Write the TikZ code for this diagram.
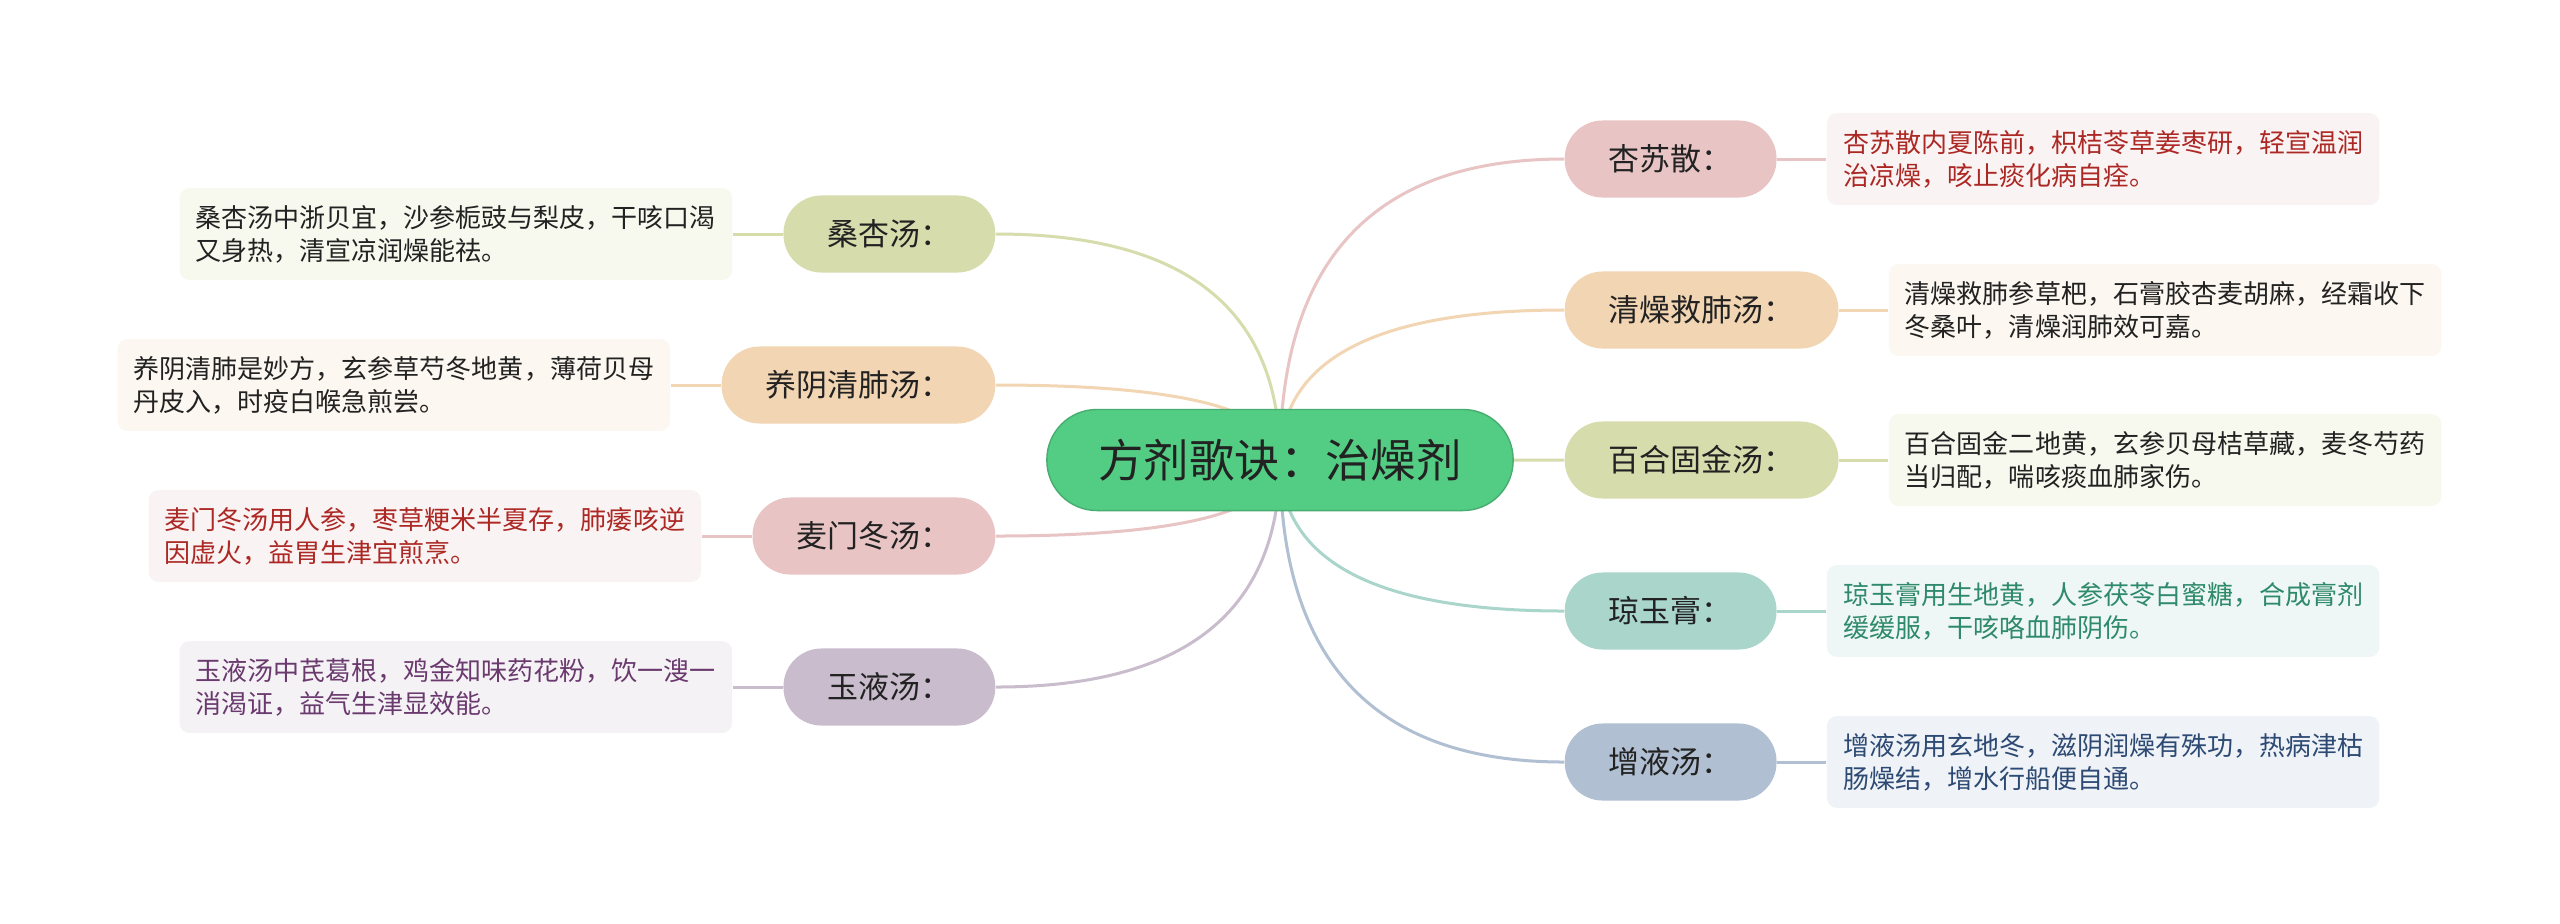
\documentclass[tikz,border=0pt]{standalone}
\usepackage{fontspec}
\setmainfont{Noto Sans CJK SC}
\usetikzlibrary{positioning,calc,backgrounds}
\definecolor{MapGreen}{RGB}{83,204,132}
\definecolor{Olive}{RGB}{214,220,172}
\definecolor{Peach}{RGB}{242,213,179}
\definecolor{Rose}{RGB}{232,196,196}
\definecolor{Lilac}{RGB}{201,188,204}
\definecolor{Teal}{RGB}{169,213,203}
\definecolor{Slate}{RGB}{176,191,209}
\definecolor{Ink}{RGB}{34,34,34}
\definecolor{RoseText}{RGB}{172,40,36}
\definecolor{LilacText}{RGB}{106,58,110}
\definecolor{TealText}{RGB}{46,138,106}
\definecolor{SlateText}{RGB}{44,74,115}
\tikzset{
  root/.style={fill=MapGreen,draw=MapGreen!85!black,rounded corners=0.5cm,minimum width=4.66cm,minimum height=1.01cm,text=Ink,font=\fontsize{12.9pt}{15pt}\selectfont},
  topic/.style={fill=#1,rounded corners=0.38cm,minimum height=0.77cm,inner xsep=0.44cm,inner ysep=0.1cm,text=Ink,font=\fontsize{8.8pt}{10pt}\selectfont},
  note/.style={fill=#1!20,rounded corners=0.1cm,inner xsep=0.16cm,inner ysep=0.17cm,align=left,text=Ink,font=\fontsize{7.4pt}{9.4pt}\selectfont},
  link/.style={draw=#1,line width=0.03cm},
}
\begin{document}
\begin{tikzpicture}[x=0.01cm,y=-0.01cm]
    \useasboundingbox (0,0) rectangle (2560,923);
    %% Root
    \node[root] (cen) at (1280,460) {方剂歌诀：治燥剂};
    %% Left branches
    \node[topic=Olive,anchor=east] (sx) at (996,234) {桑杏汤：};
    \node[topic=Peach,anchor=east] (yy) at (996,385) {养阴清肺汤：};
    \node[topic=Rose,anchor=east]  (mm) at (996,536) {麦门冬汤：};
    \node[topic=Lilac,anchor=east] (yt) at (996,687) {玉液汤：};
    %% Right branches
    \node[topic=Rose,anchor=west]  (xs) at (1564,159) {杏苏散：};
    \node[topic=Peach,anchor=west] (qz) at (1564,310) {清燥救肺汤：};
    \node[topic=Olive,anchor=west] (bh) at (1564,460) {百合固金汤：};
    \node[topic=Teal,anchor=west]  (qy) at (1564,611) {琼玉膏：};
    \node[topic=Slate,anchor=west] (zy) at (1564,762) {增液汤：};
    %% Notes, left
    \node[note=Olive,left=0.5cm of sx] (sxn) {桑杏汤中浙贝宜，沙参栀豉与梨皮，干咳口渴\\又身热，清宣凉润燥能祛。};
    \node[note=Peach,left=0.5cm of yy] (yyn) {养阴清肺是妙方，玄参草芍冬地黄，薄荷贝母\\丹皮入，时疫白喉急煎尝。};
    \node[note=Rose,text=RoseText,left=0.5cm of mm] (mmn) {麦门冬汤用人参，枣草粳米半夏存，肺痿咳逆\\因虚火，益胃生津宜煎烹。};
    \node[note=Lilac,text=LilacText,left=0.5cm of yt] (ytn) {玉液汤中芪葛根，鸡金知味药花粉，饮一溲一\\消渴证，益气生津显效能。};
    %% Notes, right
    \node[note=Rose,text=RoseText,right=0.49cm of xs] (xsn) {杏苏散内夏陈前，枳桔苓草姜枣研，轻宣温润\\治凉燥，咳止痰化病自痊。};
    \node[note=Peach,right=0.49cm of qz] (qzn) {清燥救肺参草杷，石膏胶杏麦胡麻，经霜收下\\冬桑叶，清燥润肺效可嘉。};
    \node[note=Olive,right=0.49cm of bh] (bhn) {百合固金二地黄，玄参贝母桔草藏，麦冬芍药\\当归配，喘咳痰血肺家伤。};
    \node[note=Teal,text=TealText,right=0.49cm of qy] (qyn) {琼玉膏用生地黄，人参茯苓白蜜糖，合成膏剂\\缓缓服，干咳咯血肺阴伤。};
    \node[note=Slate,text=SlateText,right=0.49cm of zy] (zyn) {增液汤用玄地冬，滋阴润燥有殊功，热病津枯\\肠燥结，增水行船便自通。};
    %% Links
    \begin{scope}[on background layer]
      \fill[white] (0,0) rectangle (2560,923);
      \foreach \n/\c in {sx/Olive,yy/Peach,mm/Rose,yt/Lilac}{
        \draw[link=\c] (cen.center) .. controls ($(cen.center)!.667!(cen.center|-\n.east)$) and ($(\n.east)!.667!(cen.center|-\n.east)$) .. (\n.east);
        \draw[link=\c] (\n.west) -- (\n n.east);
      }
      \foreach \n/\c in {xs/Rose,qz/Peach,bh/Olive,qy/Teal,zy/Slate}{
        \draw[link=\c] (cen.center) .. controls ($(cen.center)!.667!(cen.center|-\n.west)$) and ($(\n.west)!.667!(cen.center|-\n.west)$) .. (\n.west);
        \draw[link=\c] (\n.east) -- (\n n.west);
      }
    \end{scope}
\end{tikzpicture}
\end{document}
